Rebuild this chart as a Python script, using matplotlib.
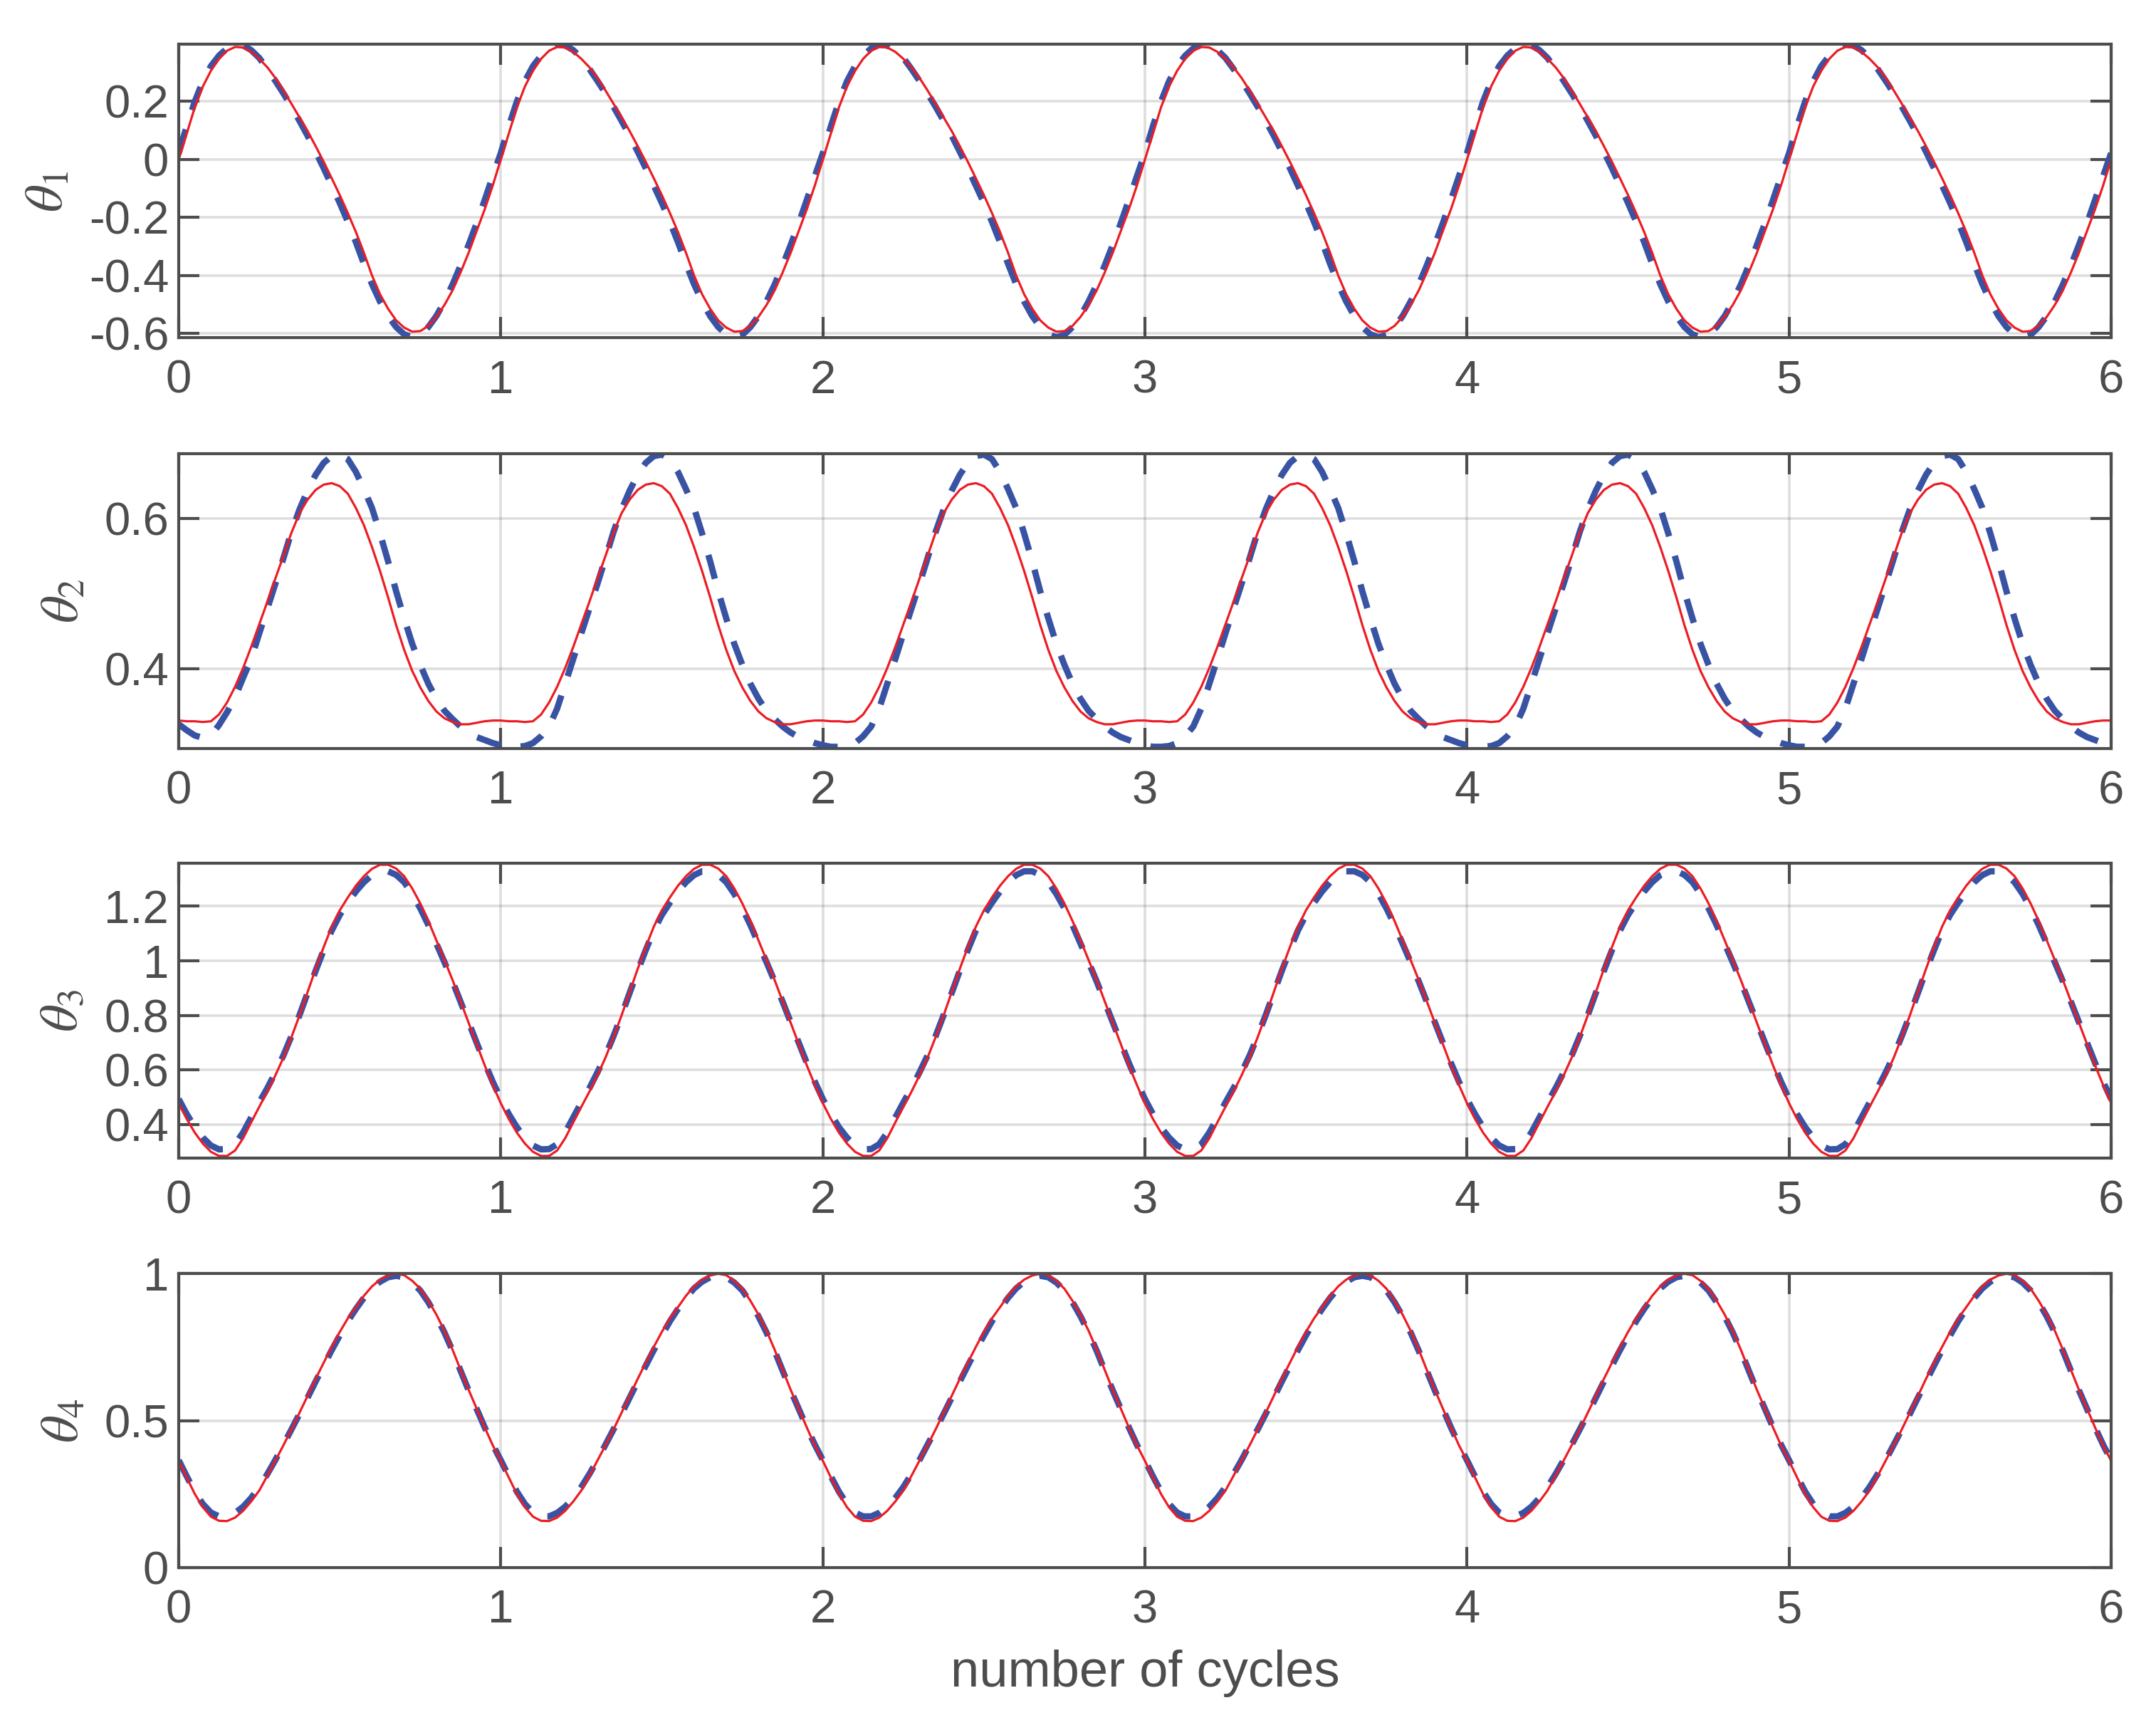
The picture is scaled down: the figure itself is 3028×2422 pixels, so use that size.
import numpy as np
import matplotlib
matplotlib.use("Agg")
import matplotlib.pyplot as plt

step = 0.025
n_cycles = 6

theta1_solid = [0.000, 0.090, 0.180, 0.252, 0.306, 0.347, 0.375, 0.388, 0.386, 0.371,
                0.347, 0.318, 0.281, 0.238, 0.192, 0.145, 0.098, 0.046, -0.008, -0.065,
                -0.123, -0.185, -0.250, -0.322, -0.400, -0.465, -0.515, -0.555, -0.580, -0.594,
                -0.592, -0.574, -0.543, -0.502, -0.452, -0.390, -0.322, -0.247, -0.172, -0.090]
theta1_dashed = [0.022, 0.115, 0.200, 0.270, 0.322, 0.358, 0.383, 0.396, 0.393, 0.377,
                 0.350, 0.312, 0.271, 0.228, 0.182, 0.133, 0.082, 0.027, -0.030, -0.090,
                 -0.150, -0.215, -0.285, -0.360, -0.430, -0.490, -0.540, -0.578, -0.603, -0.613,
                 -0.605, -0.578, -0.540, -0.490, -0.432, -0.366, -0.295, -0.220, -0.140, -0.058]

theta2_solid = [0.331, 0.330, 0.330, 0.329, 0.330, 0.339, 0.355, 0.376, 0.401, 0.429,
                0.459, 0.489, 0.520, 0.550, 0.581, 0.607, 0.625, 0.638, 0.645, 0.647,
                0.643, 0.633, 0.614, 0.591, 0.562, 0.530, 0.495, 0.458, 0.425, 0.397,
                0.375, 0.357, 0.343, 0.334, 0.329, 0.326, 0.326, 0.328, 0.330, 0.331]
theta2_dashed = [0.298, 0.296, 0.296, 0.297, 0.301, 0.310, 0.323, 0.347, 0.380, 0.413,
                 0.447, 0.480, 0.513, 0.547, 0.582, 0.612, 0.637, 0.658, 0.674, 0.683,
                 0.685, 0.679, 0.662, 0.639, 0.614, 0.580, 0.543, 0.503, 0.467, 0.433,
                 0.405, 0.380, 0.360, 0.344, 0.333, 0.323, 0.315, 0.309, 0.305, 0.301]
# first cycle of the dashed theta2 starts a little differently
theta2_dashed_start = [0.326, 0.318, 0.311, 0.308, 0.311, 0.325, 0.342, 0.362, 0.388]

theta3_solid = [0.478, 0.420, 0.370, 0.330, 0.300, 0.285, 0.285, 0.305, 0.350, 0.408,
                0.465, 0.520, 0.580, 0.645, 0.720, 0.800, 0.885, 0.970, 1.050, 1.125,
                1.185, 1.232, 1.275, 1.310, 1.337, 1.352, 1.352, 1.338, 1.310, 1.265,
                1.210, 1.146, 1.075, 1.003, 0.930, 0.852, 0.773, 0.695, 0.617, 0.545]
theta3_dashed = [0.493, 0.438, 0.390, 0.352, 0.323, 0.309, 0.310, 0.328, 0.371, 0.426,
                 0.481, 0.533, 0.591, 0.653, 0.724, 0.801, 0.882, 0.963, 1.039, 1.111,
                 1.168, 1.213, 1.254, 1.288, 1.314, 1.328, 1.328, 1.315, 1.288, 1.245,
                 1.192, 1.131, 1.063, 0.995, 0.925, 0.850, 0.775, 0.700, 0.626, 0.557]

theta4_solid = [0.363, 0.306, 0.250, 0.205, 0.173, 0.159, 0.158, 0.170, 0.193, 0.225,
                0.262, 0.312, 0.364, 0.416, 0.470, 0.527, 0.584, 0.642, 0.697, 0.751,
                0.802, 0.848, 0.886, 0.925, 0.957, 0.980, 0.994, 1.000, 0.995, 0.976,
                0.949, 0.908, 0.861, 0.806, 0.742, 0.673, 0.605, 0.541, 0.477, 0.416]
theta4_dashed = [0.365, 0.310, 0.258, 0.216, 0.187, 0.174, 0.174, 0.186, 0.207, 0.237,
                 0.274, 0.318, 0.366, 0.418, 0.470, 0.523, 0.578, 0.633, 0.687, 0.740,
                 0.790, 0.838, 0.880, 0.918, 0.950, 0.973, 0.988, 0.993, 0.988, 0.970,
                 0.943, 0.903, 0.855, 0.800, 0.738, 0.670, 0.603, 0.540, 0.477, 0.418]

ylabels = [r'$\theta_1$', r'$\theta_2$', r'$\theta_3$', r'$\theta_4$']
ylims = [(-0.615, 0.397), (0.294, 0.686), (0.278, 1.357), (0.0, 1.0)]
yticks = [[-0.6, -0.4, -0.2, 0, 0.2], [0.4, 0.6], [0.4, 0.6, 0.8, 1, 1.2], [0, 0.5, 1]]
yticklabels = [['-0.6', '-0.4', '-0.2', '0', '0.2'], ['0.4', '0.6'],
               ['0.4', '0.6', '0.8', '1', '1.2'], ['0', '0.5', '1']]
xticks = [0, 1, 2, 3, 4, 5, 6]


def full_series(cycle, start=None):
    y = list(cycle) * n_cycles + [cycle[0]]
    if start is not None:
        y[:len(start)] = start
    return np.array(y)


solid = [full_series(theta1_solid), full_series(theta2_solid),
         full_series(theta3_solid), full_series(theta4_solid)]
dashed = [full_series(theta1_dashed), full_series(theta2_dashed, theta2_dashed_start),
          full_series(theta3_dashed), full_series(theta4_dashed)]
t = np.arange(len(theta1_solid) * n_cycles + 1) * step

plt.rcParams['font.family'] = ['Liberation Sans', 'DejaVu Sans']
plt.rcParams['mathtext.fontset'] = 'stix'
plt.rcParams['axes.unicode_minus'] = False

gray = '#4d4d4d'
fig = plt.figure(figsize=(15.14, 12.11), dpi=200)
fig.patch.set_facecolor('white')

# axes boxes [left, bottom, width, height] in figure fractions
rects = [[0.0829, 0.8042, 0.8963, 0.1701],
         [0.0829, 0.5662, 0.8963, 0.1707],
         [0.0829, 0.3288, 0.8963, 0.1707],
         [0.0829, 0.0913, 0.8963, 0.1703]]

for i in range(4):
    ax = fig.add_axes(rects[i])
    ax.plot(t, dashed[i], color='#3953a4', lw=3.2, linestyle=(0, (3.9, 3.2)),
            dash_capstyle='butt')
    ax.plot(t, solid[i], color='#ed1c24', lw=1.15)
    ax.set_xlim(0, 6)
    ax.set_ylim(*ylims[i])
    ax.set_xticks(xticks)
    ax.set_xticklabels([str(v) for v in xticks])
    ax.set_yticks(yticks[i])
    ax.set_yticklabels(yticklabels[i])
    ax.set_axisbelow(True)
    ax.grid(True, color=(0.15, 0.15, 0.15), alpha=0.15, lw=1.3)
    for s in ax.spines.values():
        s.set_color(gray)
        s.set_linewidth(1.5)
    ax.tick_params(direction='in', length=10.4, width=1.5, top=True, right=True,
                   color=gray, labelcolor=gray, labelsize=23.5)
    ax.tick_params(axis='x', pad=11)
    ax.tick_params(axis='y', pad=5)
    ax.set_ylabel(ylabels[i], fontsize=27, color=gray, labelpad=8)
    if i == 3:
        ax.set_xlabel('number of cycles', fontsize=26, color=gray, labelpad=9)

fig.savefig('out.png', dpi=200, facecolor='white')
